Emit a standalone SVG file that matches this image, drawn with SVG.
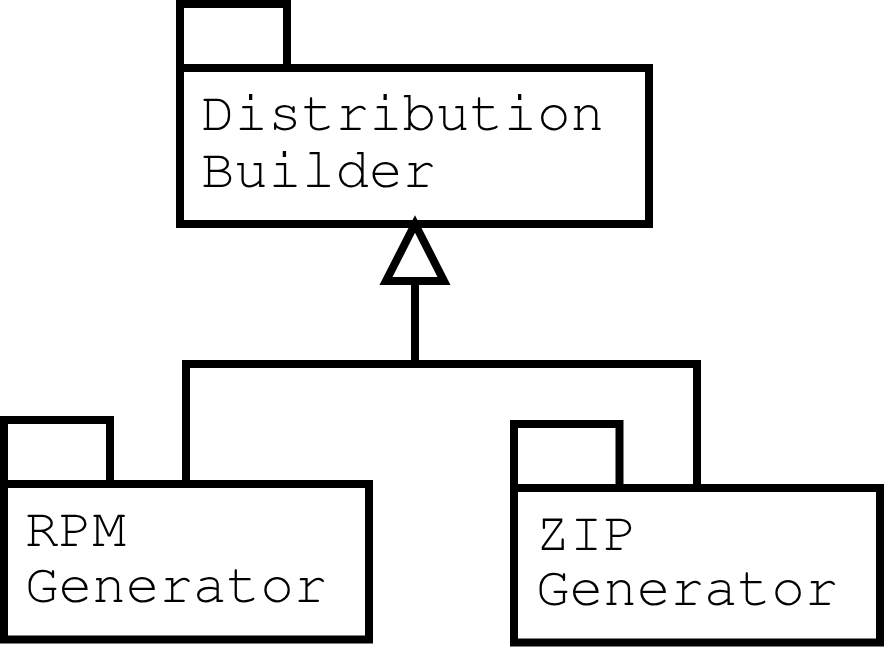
<svg xmlns="http://www.w3.org/2000/svg" width="884" height="647" viewBox="0 0 884 647">
<style>
.box{fill:#fff;stroke:#000;stroke-width:8;stroke-linejoin:miter}
.line{fill:none;stroke:#000;stroke-width:8;stroke-linejoin:miter}
.lbl{font-family:"Nimbus Mono PS","Nimbus Mono L","FreeMono","Courier 10 Pitch","Liberation Mono","Courier New",monospace;font-size:56px;fill:#000}
</style>
<rect width="884" height="647" fill="#fff"/>
<g id="distribution-builder">
<rect class="box" x="180" y="4" width="107" height="64"/>
<rect class="box" x="180" y="68" width="469" height="156"/>
<text class="lbl" x="201" y="130">Distribution<tspan x="201" y="187">Builder</tspan></text>
</g>
<g id="rpm-generator">
<rect class="box" x="4" y="420" width="106" height="64"/>
<rect class="box" x="4" y="484" width="365" height="155.5"/>
<text class="lbl" x="25" y="546">RPM<tspan x="25" y="602">Generator</tspan></text>
</g>
<g id="zip-generator">
<rect class="box" x="514" y="424" width="105.5" height="64"/>
<rect class="box" x="514" y="488" width="366" height="154.5"/>
<text class="lbl" x="536" y="550">ZIP<tspan x="536" y="605">Generator</tspan></text>
</g>
<g id="connectors">
<polyline class="line" points="186,484 186,364 697,364 697,488"/>
<line class="line" x1="415" y1="364" x2="415" y2="281"/>
<polygon class="box" points="415,224 386,281 444,281"/>
</g>
</svg>
